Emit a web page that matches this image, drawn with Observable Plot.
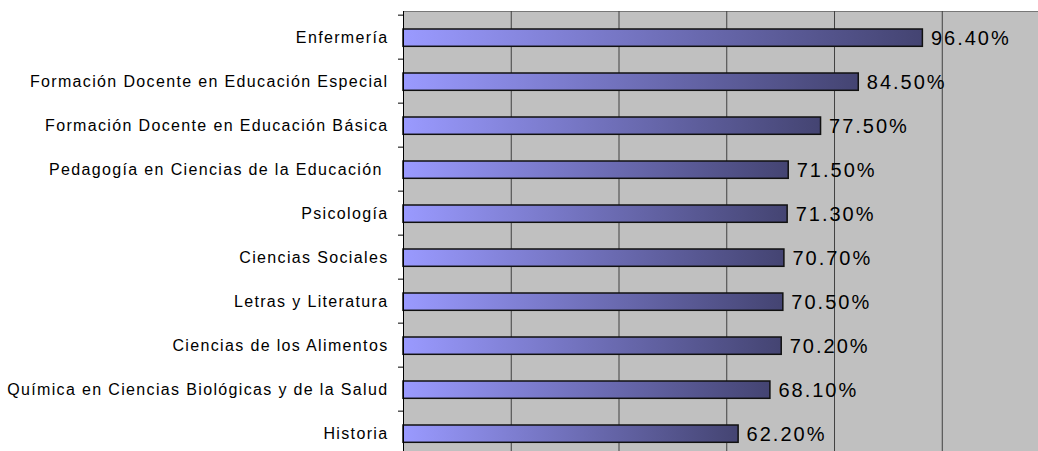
<!DOCTYPE html>
<html>
<head>
<meta charset="utf-8">
<script src="https://cdn.jsdelivr.net/npm/d3@7"></script>
<script src="https://cdn.jsdelivr.net/npm/@observablehq/plot@0.6"></script>
<style>
  html, body { margin: 0; padding: 0; background: white; overflow: hidden; }
</style>
</head>
<body>
<div id="chart"></div>
<script>
const categories = [
  "Enfermería",
  "Formación Docente en Educación Especial",
  "Formación Docente en Educación Básica",
  "Pedagogía en Ciencias de la Educación ",
  "Psicología",
  "Ciencias Sociales",
  "Letras y Literatura",
  "Ciencias de los Alimentos",
  "Química en Ciencias Biológicas y de la Salud",
  "Historia"
];
const values = [96.4, 84.5, 77.5, 71.5, 71.3, 70.7, 70.5, 70.2, 68.1, 62.2];
const valueLabels = ["96.40%", "84.50%", "77.50%", "71.50%", "71.30%", "70.70%", "70.50%", "70.20%", "68.10%", "62.20%"];
const xGridTicks = [20, 40, 60, 80, 100];

const data = categories.map((c, i) => ({category: c, value: values[i], label: valueLabels[i]}));

const W = 1038, H = 458, ML = 403, MT = 11;
const xMax = 117.86;
const pxPerUnit = (W - ML) / xMax;
const band = (H - MT) / categories.length;

const gradientDefs = () => {
  const defs = d3.create("svg:defs");
  const g = defs.append("linearGradient")
    .attr("id", "barGrad").attr("x1", "0").attr("x2", "1").attr("y1", "0").attr("y2", "0");
  g.append("stop").attr("offset", "0%").attr("stop-color", "#9a9aff");
  g.append("stop").attr("offset", "100%").attr("stop-color", "#444472");
  return defs.node();
};

const chart = Plot.plot({
  width: W,
  height: H,
  marginLeft: ML,
  marginRight: 0,
  marginTop: MT,
  marginBottom: 0,
  x: {domain: [0, xMax], axis: null},
  y: {domain: categories, padding: 0, axis: null},
  style: {background: "white", fontFamily: "'Liberation Sans', Arial, sans-serif", color: "black"},
  marks: [
    gradientDefs,
    Plot.frame({fill: "#c0c0c0", stroke: "#777"}),
    Plot.ruleX(xGridTicks, {stroke: "#404040", strokeWidth: 1}),
    Plot.barX(data, {x: "value", y: "category", fill: "url(#barGrad)", stroke: "#111", strokeWidth: 1.5, insetTop: 14, insetBottom: band - 32}),
    Plot.ruleX([0], {stroke: "black", strokeWidth: 1}),
    Plot.ruleY(categories, {y: d => d, x1: -5 / pxPerUnit, x2: 0, dy: -band / 2, stroke: "black", strokeWidth: 1}),
    Plot.text(data, {x: 0, y: "category", text: "category", textAnchor: "end", dx: -15, fontSize: 16, fill: "black"}),
    Plot.text(data, {x: "value", y: "category", text: "label", textAnchor: "start", dx: 8, dy: 1, fontSize: 20, fill: "black"})
  ]
});
const textGroups = d3.select(chart).selectAll('g[aria-label="text"]').nodes();
if (textGroups[0]) d3.select(textGroups[0]).selectAll("text").style("letter-spacing", "1.35px").style("white-space", "pre");
if (textGroups[1]) d3.select(textGroups[1]).selectAll("text").style("letter-spacing", "2px");
document.getElementById("chart").appendChild(chart);
</script>
</body>
</html>
